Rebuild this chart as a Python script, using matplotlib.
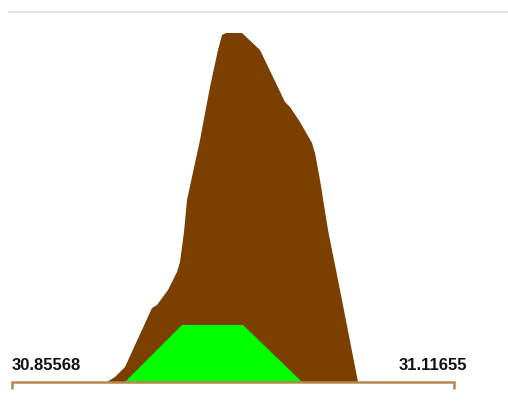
import matplotlib.pyplot as plt
import numpy as np

# range shown on the bracket axis
x_min = 30.85568
x_max = 31.11655

# brown outline (density-like profile), x in data units, height in relative units
brown_x = [30.91175, 30.91647, 30.92237, 30.93831, 30.94126, 30.94775, 30.95306,
           30.95483, 30.95720, 30.95897, 30.96664, 30.97254, 30.97726, 30.97962,
           30.98198, 30.99143, 31.00205, 31.01680, 31.01976, 31.02566, 31.03274,
           31.03451, 31.03746, 31.04218, 31.04927, 31.05989]
brown_h = [0, 5, 15, 74, 77, 92, 110, 120, 150, 182, 242, 295, 332, 347, 349,
           349, 332, 280, 275, 260, 239, 229, 202, 152, 92, 0]

# green trapezoid
green_x = [30.92237, 30.95011, 30.95601, 30.99202, 31.02684]
green_h = [0, 47, 57, 57, 0]

W, H = 508, 417
fig = plt.figure(figsize=(W / 100, H / 100), dpi=100)
ax = fig.add_axes([0, 0, 1, 1])

# pixel mapping: x_min at px 12, x_max at px 454, baseline at px 382
s = (x_max - x_min) / (454 - 12)
ax.set_xlim(x_min - 12 * s, x_min + (W - 12) * s)
ax.set_ylim(-(H - 382), 382)
ax.axis('off')

ax.fill(brown_x, brown_h, color='#7b3f00', lw=0)
ax.fill(green_x, green_h, color='#00ff00', lw=0)

# bracket axis
bc = '#b5874f'
ax.plot([x_min, x_min, x_max, x_max], [-7, 0, 0, -7], color=bc, lw=1.8,
        solid_joinstyle='miter', solid_capstyle='butt')

ax.text(x_min, 17, '{:.5f}'.format(x_min), ha='left', va='center',
        fontsize=12, fontweight='bold', family='Liberation Sans', color='#111111')
ax.text(x_min + (467 - 12) * s, 17, '{:.5f}'.format(x_max), ha='right', va='center',
        fontsize=12, fontweight='bold', family='Liberation Sans', color='#111111')

# thin grey rule at the top
ax.plot([x_min - 3 * s, x_min + (W - 12) * s], [370, 370], color='#e3e3e3', lw=1.5)

plt.savefig('out.png', dpi=100)
